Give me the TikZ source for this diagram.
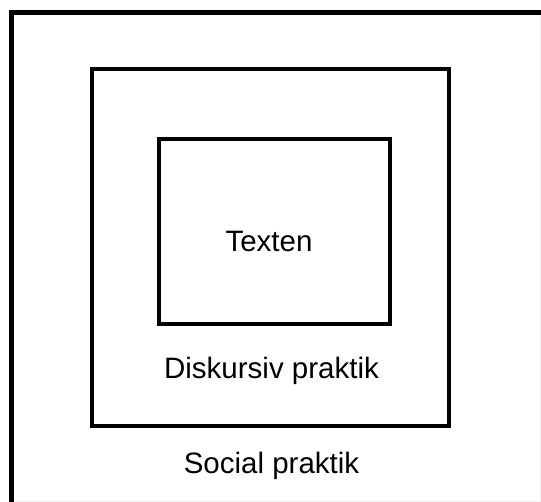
\documentclass[tikz,border=0pt]{standalone}
\usepackage{fontspec}
\setmainfont{Liberation Sans}
\usepackage{tikz}
\usetikzlibrary{calc}

\tikzset{
  boxline/.style={black, line width=4pt},
  outerline/.style={black, line width=5pt},
  label/.style={anchor=base, inner sep=0pt, font=\fontsize{29.5}{35}\selectfont}
}

\begin{document}
\begin{tikzpicture}[x=1pt,y=-1pt]
\useasboundingbox (0,0) rectangle (541,502);

\draw [gray!12, line width=1pt] (540,12.5) -- (540,501) -- (11.5,501);
\draw [outerline] (11.5,502) -- (11.5,12.5) -- (541,12.5);

\draw [boxline] (91.5,69) rectangle (449,426);
\draw [boxline] (159,139) rectangle (390,324);

\node [label] (texten) at (269,252) {Texten};
\node [label] (diskursiv) at (271.5,378.3) {Diskursiv praktik};
\node [label] (social) at (271.5,473.3) {Social praktik};

\end{tikzpicture}
\end{document}
